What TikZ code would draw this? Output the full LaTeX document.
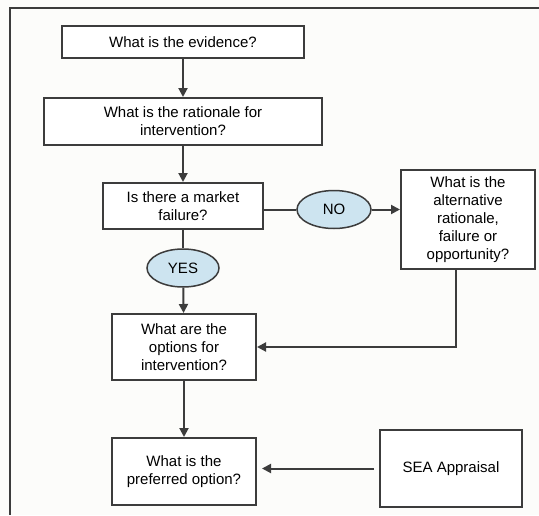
\documentclass[tikz,border=0pt]{standalone}
\usepackage{fontspec}
\setmainfont{Liberation Sans}
\usetikzlibrary{shapes,arrows.meta,positioning,calc}
\definecolor{framegrey}{RGB}{60,60,60}
\definecolor{linegrey}{RGB}{60,60,60}
\definecolor{paleblue}{RGB}{205,228,240}
\definecolor{offwhite}{RGB}{252,252,250}

\begin{document}
\begin{tikzpicture}[x=1pt, y=-1pt,
    every node/.style={font=\fontsize{15}{18}\selectfont, align=center, inner sep=0pt},
    box/.style={draw=linegrey, line width=2pt, fill=white, rectangle},
    answer/.style={draw=linegrey, line width=1.5pt, fill=paleblue, ellipse},
    link/.style={draw=linegrey, line width=2pt},
    flow/.style={link, -{Triangle[length=9pt,width=9pt]}}]

    % Canvas and frame
    \fill[offwhite] (0,0) rectangle (539,515);
    \useasboundingbox (0,0) rectangle (539,515);
    \draw[framegrey, line width=2.6pt] (539,8) -- (10,8) -- (10,515);

    % Main column
    \node[box, minimum width=242pt, minimum height=32pt] (evidence) at (183, 42) {What is the evidence?};
    \node[box, minimum width=278pt, minimum height=47pt] (rationale) at (183, 121.5) {What is the rationale for\\intervention?};
    \node[box, minimum width=160pt, minimum height=46pt] (market) at (183, 206) {Is there a market\\failure?};
    \node[box, minimum width=144pt, minimum height=66pt] (options) at (184, 347) {What are the\\options for\\intervention?};
    \node[box, minimum width=144pt, minimum height=67pt] (preferred) at (184, 471.5) {What is the\\preferred option?};

    % Answers
    \node[answer, minimum width=74pt, minimum height=38pt] (no) at (334, 209.5) {NO};
    \node[answer, minimum width=72pt, minimum height=38pt] (yes) at (183, 268) {YES};

    % Right side
    \node[box, minimum width=134pt, minimum height=99pt] (alt) at (468, 219.5) {What is the\\alternative\\rationale,\\failure or\\opportunity?};
    \node[box, minimum width=142pt, minimum height=77pt] (sea) at (451, 468.5) {SEA Appraisal};

    % Connectors
    \draw[flow] (evidence) -- (rationale);
    \draw[flow] (rationale) -- (market);
    \draw[link] (market) -- (yes);
    \draw[flow] (yes) -- (options);
    \draw[link] (no.west -| market.east) -- (no.west);
    \draw[flow] (no) -- (no -| alt.west);
    \draw[flow] ([xshift=-12pt]alt.south) |- (options.east);
    \draw[flow] (options) -- (preferred);
    \draw[flow, shorten <=5pt, shorten >=5pt] (sea.west) -- (sea.west -| preferred.east);

\end{tikzpicture}
\end{document}
